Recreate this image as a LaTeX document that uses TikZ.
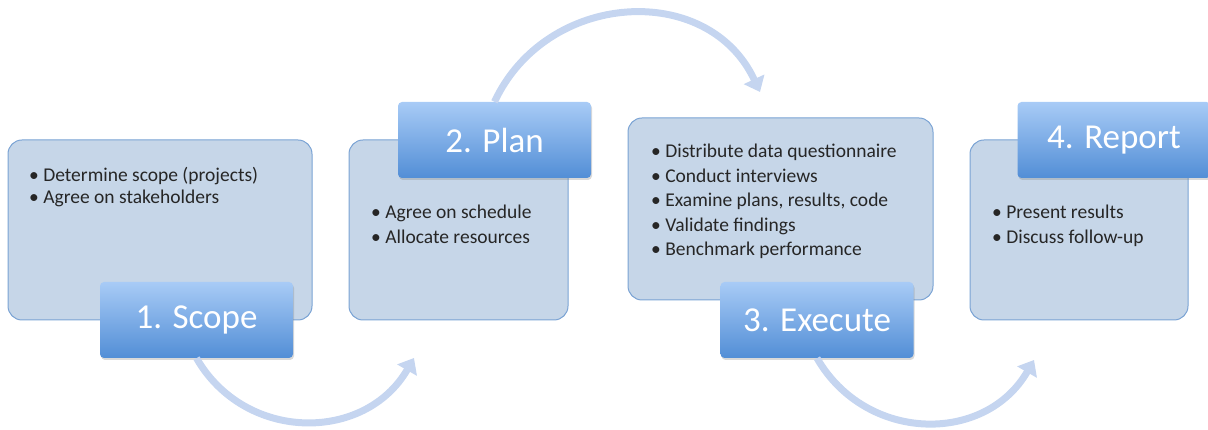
\documentclass[tikz,border=0pt]{standalone}
\usepackage{fontspec}
\setmainfont{Carlito}
\usetikzlibrary{arrows.meta,shadows}
\definecolor{panelfill}{RGB}{198,214,232}
\definecolor{paneldraw}{RGB}{122,163,212}
\definecolor{tabtop}{RGB}{168,203,246}
\definecolor{tabbottom}{RGB}{82,142,214}
\definecolor{flowblue}{RGB}{197,213,240}
\tikzset{
    panel/.style={draw=paneldraw, fill=panelfill, rounded corners=14pt, line width=1pt},
    tab/.style={rounded corners=4pt, top color=tabtop, bottom color=tabbottom, text=white,
        font=\fontsize{35}{40}\selectfont, minimum width=193pt, minimum height=76pt,
        drop shadow={opacity=0.3, shadow xshift=1pt, shadow yshift=-2pt}},
    items/.style={align=left, inner sep=0pt, anchor=north west, text=black!85,
        font=\fontsize{19.5}{24.5}\selectfont},
    flow/.style={draw=flowblue, line width=7pt, -{Triangle[length=14pt,width=22pt]}}
}
\begin{document}
\begin{tikzpicture}[x=1pt,y=1pt]
            \useasboundingbox (0,0) rectangle (1208,430);
            \node[panel, minimum width=304, minimum height=180](box1) at (160,200)   {};
            \node[panel, minimum width=219, minimum height=180](box2) at (458.5,200) {};
            \node[panel, minimum width=305, minimum height=182](box3) at (780.5,221) {};
            \node[panel, minimum width=218, minimum height=180](box4) at (1079,200)  {};
            \node[items, font=\fontsize{19.5}{22.5}\selectfont](list1) at (29,263)
                {• Determine scope (projects)\\• Agree on stakeholders};
            \node[items](list2) at (371,225) {• Agree on schedule\\• Allocate resources};
            \node[items](list3) at (651,286)
                {• Distribute data questionnaire\\• Conduct interviews\\• Examine plans, results, code\\• Validate findings\\• Benchmark performance};
            \node[items](list4) at (992,225) {• Present results\\• Discuss follow-up};
            \node[tab](title1) at (196.5,110) {1. Scope};
            \node[tab](title2) at (494.5,290) {2. Plan};
            \node[tab](title3) at (817,110)   {3. Execute};
            \node[tab](title4) at (1114,290)  {4. Report};
            \coordinate (tip1) at (414,72);
            \coordinate (tip2) at (760,338);
            \coordinate (tip3) at (1034,70);
            \path
                (title1.south) edge [flow, out=-60, in=-120, looseness=1.15] (tip1)
                (title2.north) edge [flow, out=65,  in=115,  looseness=1.18] (tip2)
                (title3.south) edge [flow, out=-60, in=-120, looseness=1.15] (tip3)
                ;
        \end{tikzpicture}
\end{document}
